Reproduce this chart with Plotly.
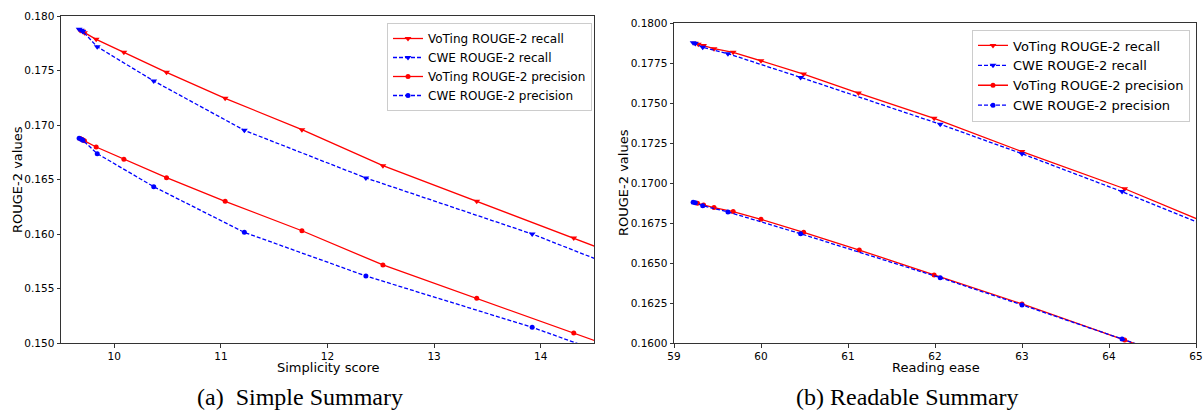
import plotly.graph_objects as go

# ---- Left panel: Simple Summary (x = Simplicity score) ----
a_vot_rec_x = [9.68, 9.70, 9.72, 9.83, 10.09, 10.49, 11.04, 11.76, 12.52, 13.40, 14.31, 15.0]
a_vot_rec_y = [0.17868, 0.17862, 0.17847, 0.17786, 0.17667, 0.17483, 0.17245, 0.16957, 0.16627, 0.16300, 0.15963, 0.15704]
a_cwe_rec_x = [9.67, 9.69, 9.705, 9.84, 10.37, 11.22, 12.36, 13.92, 15.0]
a_cwe_rec_y = [0.17878, 0.17870, 0.17858, 0.17718, 0.17404, 0.16951, 0.16514, 0.16000, 0.15585]
a_vot_pre_x = [9.68, 9.70, 9.72, 9.83, 10.09, 10.49, 11.04, 11.76, 12.52, 13.40, 14.31, 15.0]
a_vot_pre_y = [0.16875, 0.16868, 0.16855, 0.16798, 0.16685, 0.16517, 0.16300, 0.16030, 0.15716, 0.15410, 0.15092, 0.14850]
a_cwe_pre_x = [9.67, 9.69, 9.705, 9.84, 10.37, 11.22, 12.36, 13.92, 15.0]
a_cwe_pre_y = [0.16878, 0.16870, 0.16860, 0.16737, 0.16434, 0.16015, 0.15615, 0.15144, 0.14766]

# ---- Right panel: Readable Summary (x = Reading ease) ----
b_vot_rec_x = [59.245, 59.28, 59.34, 59.46, 59.68, 60.0, 60.49, 61.12, 61.99, 63.0, 64.18, 65.5]
b_vot_rec_y = [0.17875, 0.17869, 0.17862, 0.17841, 0.17819, 0.17766, 0.17683, 0.17564, 0.17406, 0.17198, 0.16966, 0.16666]
b_cwe_rec_x = [59.22, 59.245, 59.33, 59.62, 60.455, 62.06, 63.0, 64.15, 65.5]
b_cwe_rec_y = [0.17878, 0.17873, 0.17850, 0.17810, 0.17662, 0.17369, 0.17185, 0.16948, 0.16650]
b_vot_pre_x = [59.27, 59.34, 59.46, 59.68, 60.0, 60.49, 61.13, 61.99, 63.0, 64.18, 65.5]
b_vot_pre_y = [0.16875, 0.16864, 0.16848, 0.16823, 0.16775, 0.16694, 0.16583, 0.16427, 0.16246, 0.16020, 0.15770]
b_cwe_pre_x = [59.22, 59.245, 59.33, 59.62, 60.455, 62.06, 63.0, 64.15, 65.5]
b_cwe_pre_y = [0.16882, 0.16878, 0.16860, 0.16821, 0.16685, 0.16410, 0.16240, 0.16027, 0.15770]

names = ["VoTing ROUGE-2 recall", "CWE ROUGE-2 recall",
         "VoTing ROUGE-2 precision", "CWE ROUGE-2 precision"]
left_x_ticks = [10, 11, 12, 13, 14]
left_y_ticks = [0.150, 0.155, 0.160, 0.165, 0.170, 0.175, 0.180]
right_x_ticks = [59, 60, 61, 62, 63, 64, 65]
right_y_ticks = [0.1600, 0.1625, 0.1650, 0.1675, 0.1700, 0.1725, 0.1750, 0.1775, 0.1800]

RED = "#ff0000"
BLUE = "#0000ff"
styles = [
    dict(color=RED, dash="solid", symbol="triangle-down", size=6),
    dict(color=BLUE, dash="4px,2px", symbol="triangle-down", size=6),
    dict(color=RED, dash="solid", symbol="circle", size=5),
    dict(color=BLUE, dash="4px,2px", symbol="circle", size=5),
]

fig = go.Figure()

def add(xs, ys, i, xaxis, yaxis, legend):
    st = styles[i]
    fig.add_trace(go.Scatter(
        x=xs, y=ys, mode="lines+markers", name=names[i],
        line=dict(color=st["color"], width=1.3, dash=st["dash"]),
        marker=dict(color=st["color"], symbol=st["symbol"], size=st["size"]),
        xaxis=xaxis, yaxis=yaxis, legend=legend, cliponaxis=True,
    ))

left = [(a_vot_rec_x, a_vot_rec_y), (a_cwe_rec_x, a_cwe_rec_y),
        (a_vot_pre_x, a_vot_pre_y), (a_cwe_pre_x, a_cwe_pre_y)]
right = [(b_vot_rec_x, b_vot_rec_y), (b_cwe_rec_x, b_cwe_rec_y),
         (b_vot_pre_x, b_vot_pre_y), (b_cwe_pre_x, b_cwe_pre_y)]
for i, (xs, ys) in enumerate(left):
    add(xs, ys, i, "x", "y", "legend")
for i, (xs, ys) in enumerate(right):
    add(xs, ys, i, "x2", "y2", "legend2")

W, H = 1203, 416


def px(x):
    return x / W


def py(y):
    return 1 - y / H


axfont = dict(family="DejaVu Sans", size=10.5, color="black")
common = dict(showline=True, mirror=True, linecolor="#333333", linewidth=1,
              ticks="outside", ticklen=3.5, tickcolor="#333333", showgrid=False,
              zeroline=False, tickfont=axfont, automargin=False,
              ticklabeloverflow="allow")

def legend_style(size):
    return dict(bgcolor="white", bordercolor="#cccccc", borderwidth=1,
                font=dict(family="DejaVu Sans", size=size, color="black"),
                xanchor="left", yanchor="top", tracegroupgap=0, itemwidth=30)

fig.update_layout(
    width=W, height=H,
    margin=dict(l=0, r=0, t=0, b=0, autoexpand=False),
    paper_bgcolor="white", plot_bgcolor="white",
    xaxis=dict(domain=[px(61), px(594)], range=[9.5, 14.5], tickvals=left_x_ticks,
               anchor="y", **common),
    yaxis=dict(domain=[py(343), py(16)], range=[0.150, 0.180],
               tickvals=left_y_ticks, tickformat=".3f", anchor="x", **common),
    xaxis2=dict(domain=[px(674), px(1196)], range=[59, 65], tickvals=right_x_ticks,
                anchor="y2", **common),
    yaxis2=dict(domain=[py(343.3), py(23.3)], range=[0.160, 0.180],
                tickvals=right_y_ticks, tickformat=".4f", anchor="x2", **common),
    legend=dict(x=px(387), y=py(23), **legend_style(12)),
    legend2=dict(x=px(972), y=py(29.5), **legend_style(13)),
    showlegend=True,
)

ann_font = dict(family="DejaVu Sans", size=13, color="black")
cap_font = dict(family="Liberation Serif", size=24, color="black")
ann_common = dict(xref="paper", yref="paper", showarrow=False,
                  xanchor="center", yanchor="middle")
fig.add_annotation(text="ROUGE-2 values", x=px(17), y=py(180), textangle=-90,
                   font=ann_font, **ann_common)
fig.add_annotation(text="ROUGE-2 values", x=px(623), y=py(183), textangle=-90,
                   font=ann_font, **ann_common)
fig.add_annotation(text="Simplicity score", x=px(328), y=py(367),
                   font=ann_font, **ann_common)
fig.add_annotation(text="Reading ease", x=px(936), y=py(367),
                   font=ann_font, **ann_common)
fig.add_annotation(text="(a)  Simple Summary", x=px(300), y=py(397),
                   font=cap_font, **ann_common)
fig.add_annotation(text="(b) Readable Summary", x=px(907), y=py(397),
                   font=cap_font, **ann_common)

fig.write_html("out.html", config={"displayModeBar": False},
               post_script="document.body.style.margin='0';document.body.style.overflow='hidden';")
